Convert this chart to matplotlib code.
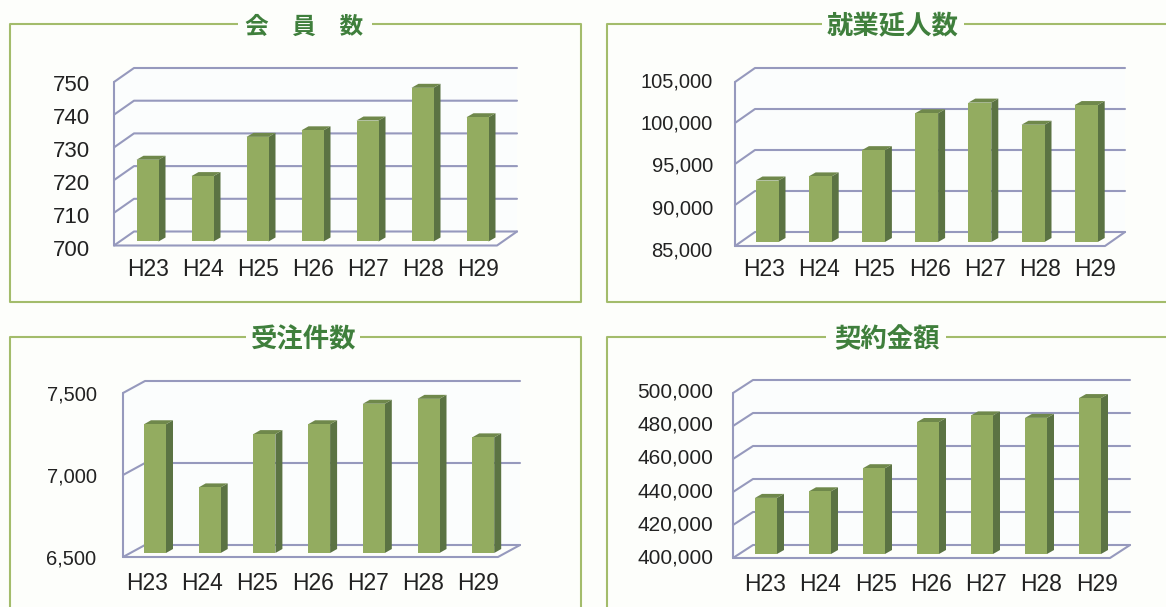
import matplotlib
matplotlib.use("Agg")
import matplotlib.pyplot as plt
from matplotlib.patches import Polygon
from matplotlib.transforms import Affine2D

W, H = 1166, 607
plt.rcParams['font.family'] = ['Liberation Sans', 'DejaVu Sans']

years = ["H23", "H24", "H25", "H26", "H27", "H28", "H29"]

members = [725, 720, 732, 734, 737, 747, 738]
members_ticks = [700, 710, 720, 730, 740, 750]
workers = [92500, 93000, 96200, 100700, 102000, 99300, 101700]
workers_ticks = [85000, 90000, 95000, 100000, 105000]
orders = [7285, 6900, 7225, 7285, 7410, 7440, 7205]
orders_ticks = [6500, 7000, 7500]
contracts = [434000, 438000, 452000, 480000, 484000, 482500, 494500]
contracts_ticks = [400000, 420000, 440000, 460000, 480000, 500000]

FRONT = "#93ac60"
SIDE = "#5b7343"
TOP = "#6f884b"
GRID = "#9699bd"
FRAME = "#a3bc6b"
TITLE = "#3f7f3c"

fig = plt.figure(figsize=(W / 100, H / 100), dpi=100, facecolor="#fdfefb")

bg = fig.add_axes([0, 0, 1, 1], zorder=0)
bg.set_xlim(0, W); bg.set_ylim(H, 0); bg.axis("off")


def frame(l, t, r, b, gap, title, tx, fs):
    kw = dict(color=FRAME, lw=1.5, solid_capstyle="butt", clip_on=True)
    bg.plot([gap[0], l, l, r, r, gap[1]], [t, t, b, b, t, t], **kw)
    bg.text(tx, t + 2.5, title, ha="center", va="center", fontsize=fs,
            color=TITLE, fontweight="bold",
            family=["Noto Sans CJK JP", "DejaVu Sans"])


frame(10, 24, 581, 302, (238, 372), "会\u3000員\u3000数", 304.5, 17)
frame(607, 24, 1180, 302, (822, 964), "就業延人数", 893, 19)
frame(10, 337, 581, 625, (246, 360), "受注件数", 304, 19)
frame(607, 337, 1180, 625, (826, 946), "契約金額", 887, 19)


def panel(vals, ticks, left, right, ybot, ytop, dx, dy, c0, step, barw, base,
          fmt, fs, pad, xpad, lab_x, lab_step, lab_bot, lab_top):
    ax = fig.add_axes([left / W, 1 - ybot / H, (right - left) / W,
                       (ybot - ytop) / H], zorder=1)
    ax.patch.set_alpha(0)
    for s in ax.spines.values():
        s.set_visible(False)
    vmin, vmax = ticks[0], ticks[-1]
    xl = (left - c0) / step
    xr = (right - c0) / step
    ax.set_xlim(xl, xr)
    ax.set_ylim(vmin, vmax)
    ppx = 1 / step
    ppy = (vmax - vmin) / (ybot - ytop)
    ddx, ddy = dx * ppx, dy * ppy

    ax.add_patch(Polygon([(xl + ddx, vmin + ddy), (xr + ddx, vmin + ddy),
                          (xr + ddx, vmax + ddy), (xl + ddx, vmax + ddy)],
                         closed=True, fc="#fbfdfd", ec="none", clip_on=False, zorder=0.5))
    ax.add_patch(Polygon([(xl, vmin), (xl + ddx, vmin + ddy), (xl + ddx, vmax + ddy), (xl, vmax)],
                         closed=True, fc="#fbfdfd", ec="none", clip_on=False, zorder=0.5))
    lw = dict(color=GRID, lw=1.5, clip_on=False, zorder=1, solid_capstyle="round")
    for t in ticks:
        ax.plot([xl, xl + ddx, xr + ddx], [t, t + ddy, t + ddy], **lw)
    ax.plot([xl, xl], [vmin, vmax], **lw)
    ax.plot([xl, xr, xr + ddx], [vmin, vmin, vmin + ddy], **lw)

    xs = list(range(len(vals)))
    bw = barw * ppx
    off = base * ppy
    sx, sy = 7 * ppx, 4 * ppy
    for x, v in zip(xs, vals):
        x0, x1 = x - bw / 2, x + bw / 2
        y0, y1 = vmin + off, v + off
        ax.add_patch(Polygon([(x1, y0), (x1 + sx, y0 + sy), (x1 + sx, y1 + sy), (x1, y1)],
                             closed=True, fc=SIDE, ec="none", clip_on=False, zorder=2))
        ax.add_patch(Polygon([(x0, y1), (x0 + sx, y1 + sy), (x1 + sx, y1 + sy), (x1, y1)],
                             closed=True, fc=TOP, ec="none", clip_on=False, zorder=2))
    ax.bar(xs, [v - vmin for v in vals], width=bw, bottom=vmin + off,
           color=FRONT, edgecolor="none", clip_on=False, zorder=3)

    ax.set_xticks(xs, years)
    ax.set_yticks(ticks, [fmt.format(t) for t in ticks])
    ax.set_xlim(xl, xr)
    ax.set_ylim(vmin, vmax)
    ax.tick_params(axis="y", length=0, pad=pad, labelsize=fs, colors="#222222")
    ax.tick_params(axis="x", length=0, pad=xpad, labelsize=16.5, colors="#222222")

    # The printed labels sit on their own slightly different spacing: nudge them
    for i, lab in enumerate(ax.get_xticklabels()):
        shift = lab_x + i * lab_step - (c0 + i * step)
        lab.set_transform(lab.get_transform() + Affine2D().translate(shift, 0))
    n = len(ticks) - 1
    for i, lab in enumerate(ax.get_yticklabels()):
        want = lab_bot + (lab_top - lab_bot) * i / n
        have = ybot - (ticks[i] - vmin) / ppy
        lab.set_transform(lab.get_transform() + Affine2D().translate(0, have - want))


panel(members, members_ticks, 114, 497, 245.5, 82, 20, 14, 147.5, 55, 22, 4, "{:d}", 16, 17, 9,
      148, 55, 248, 83)
panel(workers, workers_ticks, 735, 1105, 246, 82, 20, 14, 767, 53.2, 23, 4, "{:,d}", 14.5, 16, 9,
      764, 55.2, 249, 80)
panel(orders, orders_ticks, 123, 498, 557, 393, 22, 12, 155, 54.7, 22, 4, "{:,d}", 14.5, 19, 11,
      147, 55.2, 557, 393)
panel(contracts, contracts_ticks, 733, 1110, 558, 393, 20, 13, 766, 54, 22, 4, "{:,d}", 15, 14, 10.5,
      765, 55.3, 556, 390)

fig.savefig("out.png", dpi=100, facecolor=fig.get_facecolor())
